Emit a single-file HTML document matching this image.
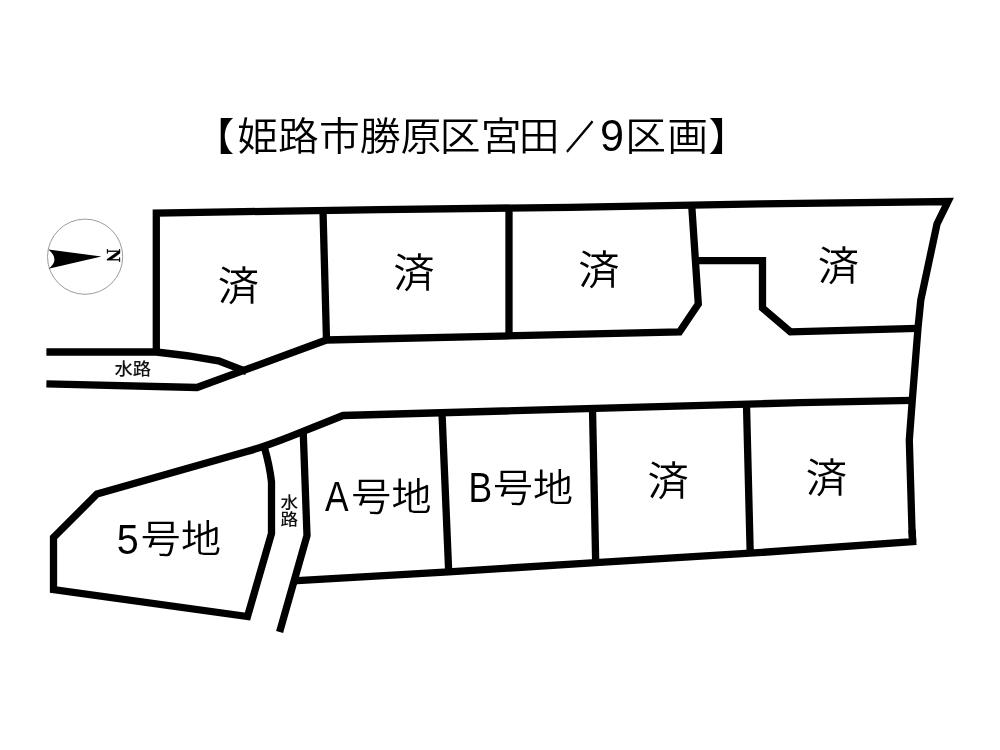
<!DOCTYPE html>
<html lang="ja">
<head>
<meta charset="utf-8">
<title>姫路市勝原区宮田／9区画</title>
<style>
html,body{margin:0;padding:0;background:#fff;}
body{width:1000px;height:750px;overflow:hidden;position:relative;font-family:"Liberation Sans","Noto Sans CJK JP",sans-serif;}
svg{position:absolute;left:0;top:0;display:block;filter:blur(0.45px);}
svg text{font-family:"Liberation Sans","Noto Sans CJK JP",sans-serif;fill:#000;font-weight:350;}
.ln{fill:none;stroke:#000;stroke-width:7.3;stroke-linejoin:miter;stroke-miterlimit:10;stroke-linecap:butt;}
.lb{font-size:40px;}
.lt{font-size:44px;}
.sv{font-size:41.3px;}
.sm{font-size:18.3px;font-weight:500;fill:#111;}
</style>
</head>
<body>
<svg width="1000" height="750" viewBox="0 0 1000 750">
<rect width="1000" height="750" fill="#fff"/>

<!-- title -->
<text id="title" transform="translate(193.5 149.6) scale(1 .95)" font-size="40.8">【<tspan dx="3">姫路市勝原</tspan><tspan dx="-1.6">区</tspan><tspan dx="0.4">宮</tspan><tspan dx="-3">田</tspan><tspan font-size="34.5" font-weight="700" stroke="#000" stroke-width="1.1" textLength="27.5" lengthAdjust="spacingAndGlyphs" dx="6.6" dy="-0.8">／</tspan><tspan font-size="47" textLength="24" lengthAdjust="spacingAndGlyphs" dx="6.5" dy="2.6">9</tspan><tspan dx="1.3" dy="-1.8">区</tspan><tspan dx="1">画</tspan><tspan dx="0.5">】</tspan></text>

<!-- compass -->
<g id="compass">
<circle cx="85.1" cy="256.7" r="37.6" fill="#fff" stroke="#909090" stroke-width="0.9"/>
<path d="M48.3 249.5 L101.4 256.6 L48.5 268.7 Q60.5 259.6 48.3 249.5Z" fill="#000"/>
<text transform="translate(107.2 255.4) rotate(90)" font-size="18.6" style="font-family:'Liberation Serif',serif;font-weight:700" stroke="#000" stroke-width="0.35" text-anchor="middle">N</text>
</g>

<!-- upper block -->
<g id="upper">
<path class="ln" d="M156.3 352 L156.3 213 L380 209.6 L570 207.3 L760 203.9 L948 201.5 L937 224 L920.8 300 L918 328 L912.3 400 L909.3 440 L912 530 L912.7 541.7"/>
<path class="ln" d="M323 211 L326.5 340"/>
<path class="ln" d="M509 208 L509 335"/>
<path class="ln" d="M691.7 205 L698.3 304 L679.5 332 L326.5 340 L197 387.5 L46.4 383.8"/>
<path class="ln" d="M696 260.7 L762.5 260.7 L762.5 308 L790.4 331.8 L917.5 328.3"/>
<path class="ln" d="M46.4 352 L156.3 352 Q188 355.2 218.5 360.8 L246.5 371.6"/>
</g>

<!-- lower block -->
<g id="lower">
<path class="ln" d="M264 446 Q269.8 466 271.5 482 L271.5 533.5 L247.5 616.5 L53.5 589.5 L53.5 537.5 L97 494 L245 452.1 Q264.6 446.6 290 436.6 L343 415.5 L800 402.6 L912 400.3"/>
<path class="ln" d="M303.2 431.5 L307 535.5 L279.6 632"/>
<path class="ln" d="M293 580.9 L448.7 571.9 L595.7 562.6 L750.2 553.2 L912.7 541.7 L912 530"/>
<path class="ln" d="M442 413 L448.7 571.9"/>
<path class="ln" d="M592.5 409 L595.7 562.6"/>
<path class="ln" d="M746.5 405 L750.2 553.2"/>
</g>

<!-- labels -->
<g id="labels">
<text id="s1" class="sv" transform="translate(238.5 299.5) scale(1 .97)" text-anchor="middle">済</text>
<text id="s2" class="sv" transform="translate(414.0 286.5) scale(1 .97)" text-anchor="middle">済</text>
<text id="s3" class="sv" transform="translate(599.0 283.6) scale(1 .97)" text-anchor="middle">済</text>
<text id="s4" class="sv" transform="translate(838.3 280.3) scale(1 .97)" text-anchor="middle">済</text>
<text id="s5" class="sv" transform="translate(668.2 494.5) scale(1 .97)" text-anchor="middle">済</text>
<text id="s6" class="sv" transform="translate(826.5 491.7) scale(1 .97)" text-anchor="middle">済</text>
<text id="la" class="lb" transform="translate(325 511.3) scale(1 .95)"><tspan class="lt" textLength="23.6" lengthAdjust="spacingAndGlyphs">A</tspan><tspan dx="2.6" dy="-1.2">号</tspan><tspan dx="0.2">地</tspan></text>
<text id="lbb" class="lb" transform="translate(468.5 501.6) scale(1 .95)"><tspan class="lt" textLength="23.6" lengthAdjust="spacingAndGlyphs">B</tspan><tspan dx="0.8" dy="-0.7">号</tspan><tspan dx="0">地</tspan></text>
<text id="l5" class="lb" transform="translate(116.8 554.2) scale(1 .95)"><tspan class="lt" style="font-size:45px" textLength="22" lengthAdjust="spacingAndGlyphs">5</tspan><tspan dx="2" dy="-1.8">号</tspan><tspan dx="0.3">地</tspan></text>
<text id="w1" class="sm" transform="translate(132.7 375.2) scale(1 .92)" text-anchor="middle">水路</text>
<text id="w2" class="sm" style="font-size:17.6px" transform="translate(289.3 508) scale(1 .92)" text-anchor="middle">水<tspan x="0" dy="18.26">路</tspan></text>
</g>
</svg>
</body>
</html>
